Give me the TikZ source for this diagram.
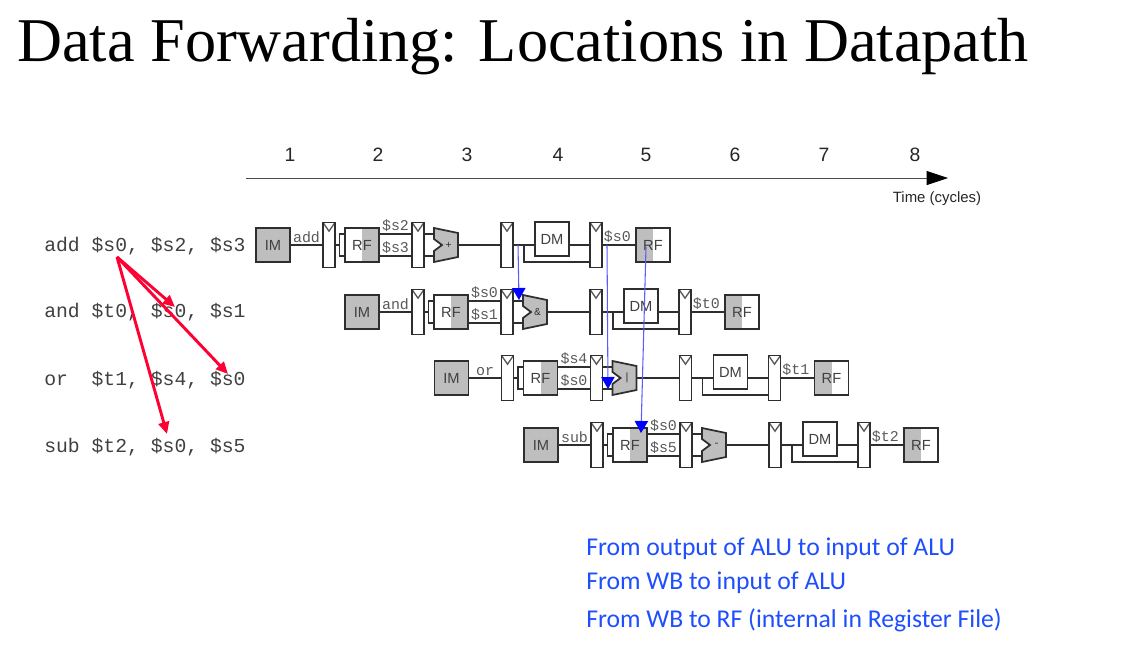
\documentclass[tikz,border=0pt]{standalone}
\usepackage{fontspec}
\setmainfont{Liberation Sans}
\setmonofont{Liberation Mono}
\newfontfamily\titlefont{Liberation Serif}
\newfontfamily\notefont{Carlito}
\usetikzlibrary{arrows.meta,positioning,calc}
\definecolor{unitgray}{HTML}{BEBEBE}
\definecolor{wirecol}{HTML}{2E2E2E}
\definecolor{fwdblue}{HTML}{0000FF}
\definecolor{fwdline}{HTML}{5A5AFF}
\definecolor{notecol}{HTML}{1F4EFF}
\definecolor{depred}{HTML}{FF0033}

\begin{document}
\begin{tikzpicture}[
  x=0.75pt, y=-0.75pt,
  wire/.style={draw=wirecol, line width=1.1pt},
  unit/.style={draw=wirecol, line width=1.3pt, rectangle, outer sep=0pt, inner sep=0pt, minimum width=25.5pt, minimum height=25.5pt, font=\fontsize{11}{12}\selectfont, text=black!75},
  imbox/.style={unit, fill=unitgray},
  dmbox/.style={unit, fill=white},
  rfread/.style={unit, path picture={\fill[unitgray] (path picture bounding box.north) rectangle (path picture bounding box.south east);}},
  rfwrite/.style={unit, path picture={\fill[unitgray] (path picture bounding box.north west) rectangle (path picture bounding box.south);}},
  pipereg/.style={draw=wirecol, line width=1.3pt, rectangle, fill=white, outer sep=0pt, inner sep=0pt, minimum width=9pt, minimum height=33.75pt,
    path picture={\draw[black!65, fill=white, line width=1pt] (path picture bounding box.north west) -- ($(path picture bounding box.north)+(0pt,-6.5pt)$) -- (path picture bounding box.north east);}},
  stubbox/.style={draw=wirecol, line width=1.1pt, rectangle, fill=white, outer sep=0pt, inner sep=0pt, minimum width=4pt, minimum height=16.5pt},
  alubox/.style={rectangle, outer sep=0pt, inner sep=0pt, minimum width=18pt, minimum height=25.5pt},
  alusign/.style={font=\fontsize{8}{9}\ttfamily\selectfont, text=black!80, inner sep=0pt},
  siglabel/.style={font=\fontsize{11.2}{12}\ttfamily\selectfont, text=black!65, inner sep=1pt},
  instr/.style={font=\fontsize{14.8}{16}\ttfamily\selectfont, text=black!75, inner sep=0pt, anchor=base west},
  cyclenum/.style={font=\fontsize{14.5}{16}\selectfont, text=black!85},
  note/.style={font=\fontsize{19.25}{22}\notefont\selectfont, text=notecol, inner sep=0pt, anchor=base west},
  depend/.style={draw=depred, line width=2.2pt, -{Triangle[width=8pt,length=9pt]}},
  fwd/.style={draw=fwdline, line width=.8pt, -{Triangle[width=10pt,length=9pt,fwdblue]}}
]
\path[use as bounding box] (0,0) rectangle (1142,647);

\node[anchor=base west, inner sep=0pt, font=\fontsize{46.7}{52}\titlefont\selectfont] (title) at (17,61) {Data Forwarding: Locations in Datapath};

\coordinate (axisstart) at (246,178);
\coordinate (axisend) at (948,178);
\draw[black!70, line width=.6pt, -{Triangle[width=10.5pt,length=16pt,black]}] (axisstart) -- (axisend);
\foreach \num/\xpos in {1/290,2/378,3/467,4/558,5/646,6/735,7/824,8/915}
  \node[cyclenum] (cycle\num) at (\xpos,155) {\num};
\node[font=\fontsize{11.2}{13}\selectfont, text=black!85, inner sep=0pt] (timelabel) at (937,199) {Time (cycles)};

\node[instr] (ins1) at (44,251) {add \$s0, \$s2, \$s3};
\node[instr] (ins2) at (44,317) {and \$t0, \$s0, \$s1};
\node[instr] (ins3) at (44,385) {or~~\$t1, \$s4, \$s0};
\node[instr] (ins4) at (44,452) {sub \$t2, \$s0, \$s5};

\foreach \row/\xpos/\ypos/\opname/\opsign/\rsa/\rsb/\rdst in {
  1/273/245/add/+/s2/s3/s0,
  2/362/312/and/\&/s0/s1/t0,
  3/451.5/378/or/|/s4/s0/t1,
  4/541/445/sub/-/s0/s5/t2}
{
  \node[imbox] (im\row) at (\xpos,\ypos) {IM};
  \node[pipereg, right=24.75pt of im\row] (ifid\row) {};
  \node[rfread, right=7.5pt of ifid\row] (rf\row) {RF};
  \node[stubbox, left=0pt of rf\row] (stub\row) {};
  \node[pipereg, right=24.75pt of rf\row] (idex\row) {};
  \node[alubox, right=7.5pt of idex\row] (alu\row) {};
  \node[pipereg, right=32.25pt of alu\row] (exmem\row) {};
  \node[dmbox, right=16.5pt of exmem\row, yshift=4.5pt] (dm\row) {DM};
  \node[pipereg, right=15.75pt of dm\row, yshift=-4.5pt] (memwb\row) {};
  \node[rfwrite, right=25.5pt of memwb\row] (rfw\row) {RF};

  \draw[wire, line width=1.3pt, fill=unitgray] (alu\row.north west) -- ([yshift=-3.75pt]alu\row.north east) -- ([yshift=3.75pt]alu\row.south east) -- (alu\row.south west)
    -- ([yshift=-4.5pt]alu\row.west) -- ([xshift=6pt]alu\row.west) -- ([yshift=4.5pt]alu\row.west) -- cycle;
  \node[alusign] (alusign\row) at ([xshift=2pt]alu\row.center) {\opsign};

  \draw[wire] (im\row) -- node[siglabel, above] (oplabel\row) {\opname} (ifid\row);
  \draw[wire] (ifid\row) -- (stub\row);
  \draw[wire] ([yshift=8.25pt]rf\row.east) -- node[siglabel, above] (rsalabel\row) {\$\rsa} ([yshift=8.25pt]idex\row.west);
  \draw[wire] ([yshift=-8.25pt]rf\row.east) -- node[siglabel, above] (rsblabel\row) {\$\rsb} ([yshift=-8.25pt]idex\row.west);
  \draw[wire] ([yshift=8.25pt]idex\row.east) -- ([yshift=8.25pt]alu\row.west);
  \draw[wire] ([yshift=-8.25pt]idex\row.east) -- ([yshift=-8.25pt]alu\row.west);
  \draw[wire] (alu\row.east) -- (exmem\row);
  \draw[wire] (exmem\row) -- (exmem\row -| dm\row.west);
  \draw[wire] (memwb\row -| dm\row.east) -- (memwb\row);
  \coordinate[right=8.25pt of exmem\row] (tap\row);
  \draw[wire] (tap\row) |- ([yshift=-12.75pt]memwb\row.west);
  \draw[wire] (memwb\row) -- node[siglabel, above, pos=.45] (rdlabel\row) {\$\rdst} (rfw\row);
}

\coordinate (srcdep) at (117,257);
\coordinate (dstand) at (175,307);
\coordinate (dstor) at (228,374);
\coordinate (dstsub) at (167,434);
\draw[depend] (srcdep) -- (dstand);
\draw[depend] (srcdep) -- (dstor);
\draw[depend] (srcdep) -- (dstsub);

\coordinate (fwdsrca) at (518,245);
\coordinate (fwddsta) at (519,300);
\coordinate (fwdsrcb) at (607,245);
\coordinate (fwddstb) at (608,389);
\coordinate (fwdsrcc) at (646,247);
\coordinate (fwddstc) at (641,433);
\draw[fwd] (fwdsrca) -- (fwddsta);
\draw[fwd] (fwdsrcb) -- (fwddstb);
\draw[fwd] (fwdsrcc) -- (fwddstc);

\node[note] (notea) at (586,555) {From output of ALU to input of ALU};
\node[note] (noteb) at (586,589) {From WB to input of ALU};
\node[note] (notec) at (586,627) {From WB to RF (internal in Register File)};
\end{tikzpicture}
\end{document}
